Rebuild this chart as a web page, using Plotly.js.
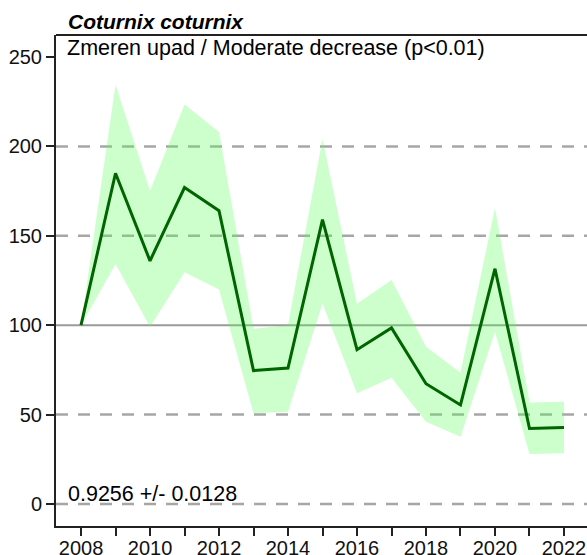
<!DOCTYPE html>
<html>
<head>
<meta charset="utf-8">
<script src="https://cdn.plot.ly/plotly-3.0.1.min.js"></script>
<style>html,body{margin:0;padding:0;background:#fff;}</style>
</head>
<body>
<div id="chart" style="width:587px;height:555px;"></div>
<script>
// Data
const years  = [2008, 2009, 2010, 2011, 2012, 2013, 2014, 2015, 2016, 2017, 2018, 2019, 2020, 2021, 2022];
const index  = [100, 185, 136, 177, 164, 74.6, 76, 159, 86.3, 98.5, 67.3, 55.4, 131.6, 42.2, 42.8];
const upper  = [100, 234.5, 175, 223.5, 208, 98, 100, 204, 112, 125.3, 88, 73.4, 165.5, 56.7, 57.2];
const lower  = [100, 134.2, 99.2, 129.6, 120, 50.7, 51.6, 112.2, 62, 70.6, 46, 37.6, 96.4, 28, 28.4];
const yTicks = [0, 50, 100, 150, 200, 250];
const dashedLevels = [0, 50, 150, 200];
const solidLevels = [100];
const titleText = "Coturnix coturnix";
const subtitleText = "Zmeren upad / Moderate decrease (p&lt;0.01)";
const trendText = "0.9256 +/- 0.0128";

const xTickText = years.map(y => (y % 2 === 0 ? String(y) : ""));
const FONT = "Liberation Sans, Arial, sans-serif";

const traces = [
  { x: years, y: lower, type: "scatter", mode: "lines", line: { width: 0, color: "rgba(0,0,0,0)" },
    hoverinfo: "skip", showlegend: false },
  { x: years, y: upper, type: "scatter", mode: "lines", line: { width: 0, color: "rgba(0,0,0,0)" },
    fill: "tonexty", fillcolor: "rgba(85,255,85,0.3)", hoverinfo: "skip", showlegend: false },
  { x: years, y: index, type: "scatter", mode: "lines", line: { width: 3, color: "#006400" },
    showlegend: false }
];

const shapes = [];
dashedLevels.forEach(v => shapes.push({
  type: "line", xref: "paper", x0: 0, x1: 1, yref: "y", y0: v, y1: v, layer: "below",
  line: { color: "#a6a6a6", width: 2.5, dash: "12px,10px" }
}));
solidLevels.forEach(v => shapes.push({
  type: "line", xref: "paper", x0: 0, x1: 1, yref: "y", y0: v, y1: v, layer: "below",
  line: { color: "#9a9a9a", width: 2 }
}));
// top frame line
shapes.push({ type: "line", xref: "paper", x0: 0, x1: 1, yref: "paper", y0: 1, y1: 1,
  line: { color: "#222", width: 2 } });

const layout = {
  width: 587, height: 555,
  margin: { l: 56, r: 0, t: 35, b: 29, pad: 0 },
  paper_bgcolor: "#fff", plot_bgcolor: "#fff",
  font: { family: FONT, size: 20, color: "#111" },
  showlegend: false,
  xaxis: {
    range: [2007.275, 2022.667], tickmode: "array", tickvals: years, ticktext: xTickText,
    ticks: "outside", ticklen: 8, tickwidth: 2, tickcolor: "#222", ticklabelstandoff: -5,
    showline: true, linecolor: "#222", linewidth: 2, showgrid: false, zeroline: false,
    tickfont: { family: FONT, size: 20, color: "#111" }
  },
  yaxis: {
    range: [-12.3, 262.3], tickmode: "array", tickvals: yTicks,
    ticks: "outside", ticklen: 8, tickwidth: 2, tickcolor: "#222",
    showline: true, linecolor: "#222", linewidth: 2, showgrid: false, zeroline: false,
    tickfont: { family: FONT, size: 20, color: "#111" }
  },
  shapes: shapes,
  annotations: [
    { text: "<b><i>" + titleText + "</i></b>", xref: "paper", yref: "paper", x: 0, y: 1,
      xanchor: "left", yanchor: "middle", xshift: 10, yshift: 14, showarrow: false,
      font: { family: FONT, size: 21, color: "#000" } },
    { text: subtitleText, xref: "paper", yref: "paper", x: 0, y: 1,
      xanchor: "left", yanchor: "middle", xshift: 9, yshift: -13, showarrow: false,
      font: { family: FONT, size: 21.5, color: "#000" } },
    { text: trendText, xref: "paper", yref: "paper", x: 0, y: 0,
      xanchor: "left", yanchor: "middle", xshift: 10, yshift: 32, showarrow: false,
      font: { family: FONT, size: 21.5, color: "#000" } }
  ]
};

Plotly.newPlot("chart", traces, layout, { staticPlot: true, displayModeBar: false });
</script>
</body>
</html>
